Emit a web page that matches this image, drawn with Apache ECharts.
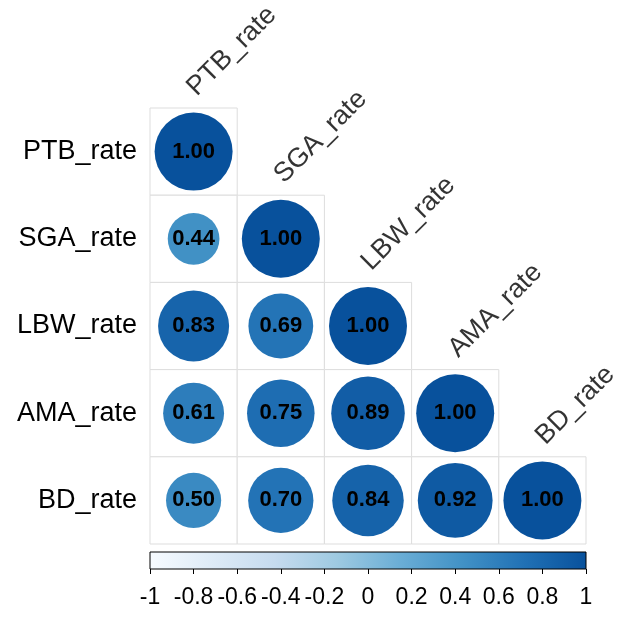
<!DOCTYPE html>
<html>
<head>
<meta charset="utf-8">
<script src="https://cdn.jsdelivr.net/npm/echarts@6/dist/echarts.min.js"></script>
<style>html,body{margin:0;padding:0;background:#fff;}#c{width:624px;height:618px;}</style>
</head>
<body>
<div id="c"></div>
<script>
// ---- data ----
var variables = ['PTB_rate', 'SGA_rate', 'LBW_rate', 'AMA_rate', 'BD_rate'];
// lower-triangle correlations, row i has i+1 values (columns 0..i)
var corrPTB = [1.00];
var corrSGA = [0.44, 1.00];
var corrLBW = [0.83, 0.69, 1.00];
var corrAMA = [0.61, 0.75, 0.89, 1.00];
var corrBD  = [0.50, 0.70, 0.84, 0.92, 1.00];
var corrRows = [corrPTB, corrSGA, corrLBW, corrAMA, corrBD];
var colorbarTicks = [-1, -0.8, -0.6, -0.4, -0.2, 0, 0.2, 0.4, 0.6, 0.8, 1];
var colorbarTickLabels = ['-1', '-0.8', '-0.6', '-0.4', '-0.2', '0', '0.2', '0.4', '0.6', '0.8', '1'];
var palette = ['#F7FBFF', '#DEEBF7', '#C6DBEF', '#9ECAE1', '#6BAED6', '#4292C6', '#2171B5', '#08519C'];

// ---- build ----
var circleData = [];
var cellData = [];
corrRows.forEach(function (row, i) {
  row.forEach(function (v, j) {
    circleData.push([variables[j], variables[i], v]);
    cellData.push([variables[j], variables[i]]);
  });
});
var diagData = variables.map(function (v) { return [v, v]; });

var FONT = 'Liberation Sans, Arial, sans-serif';
var MAXD = 78;

var chart = echarts.init(document.getElementById('c'), null, { renderer: 'canvas' });
chart.setOption({
  backgroundColor: '#fff',
  animation: false,
  grid: [
    { left: 150, top: 108, width: 436, height: 436 },
    { left: 150, top: 552, width: 436, height: 17 }
  ],
  xAxis: [
    { type: 'category', data: variables, gridIndex: 0, show: false },
    { type: 'value', gridIndex: 1, min: -1, max: 1, interval: 0.2, position: 'bottom',
      axisLine: { show: false },
      axisTick: { show: true, length: 5, lineStyle: { color: '#000', width: 1 } },
      splitLine: { show: false },
      axisLabel: { fontSize: 23, color: '#000', fontFamily: FONT, margin: 17,
        formatter: function (v, idx) { return colorbarTickLabels[idx]; } }
    }
  ],
  yAxis: [
    { type: 'category', data: variables, gridIndex: 0, inverse: true,
      axisLine: { show: false }, axisTick: { show: false }, splitLine: { show: false },
      axisLabel: { fontSize: 27, color: '#000', fontFamily: FONT, margin: 13 } },
    { type: 'value', gridIndex: 1, min: 0, max: 1, show: false }
  ],
  visualMap: {
    show: false, type: 'continuous', min: -1, max: 1, dimension: 2, seriesIndex: 1,
    inRange: { color: palette }
  },
  series: [
    {
      type: 'custom', xAxisIndex: 0, yAxisIndex: 0, data: cellData, z: 1,
      renderItem: function (params, api) {
        var c = api.coord([api.value(0), api.value(1)]);
        var s = api.size([1, 1]);
        return { type: 'rect',
          shape: { x: c[0] - s[0] / 2, y: c[1] - s[1] / 2, width: s[0], height: s[1] },
          style: { fill: '#fff', stroke: '#DDDDDD', lineWidth: 1 } };
      }
    },
    {
      type: 'scatter', xAxisIndex: 0, yAxisIndex: 0, data: circleData, z: 3,
      symbol: 'circle',
      symbolSize: function (val) { return Math.sqrt(Math.abs(val[2])) * MAXD; },
      itemStyle: { opacity: 1 },
      label: { show: true, position: 'inside', color: '#000', fontSize: 22, fontWeight: 'bold', fontFamily: FONT,
        textBorderWidth: 0,
        formatter: function (p) { return p.value[2].toFixed(2); } },
      emphasis: { disabled: true }
    },
    {
      type: 'scatter', xAxisIndex: 0, yAxisIndex: 0, data: diagData, z: 4,
      symbolSize: 0, silent: true, itemStyle: { color: '#000' },
      label: { show: true, position: 'inside', rotate: 45, align: 'left', verticalAlign: 'middle',
        offset: [41, -44], color: '#000', fontSize: 27, fontFamily: FONT, textBorderWidth: 0,
        formatter: function (p) { return p.value[0]; } }
    },
    {
      type: 'custom', xAxisIndex: 1, yAxisIndex: 1, data: [[colorbarTicks[0], colorbarTicks[colorbarTicks.length - 1]]],
      renderItem: function (params, api) {
        var a = api.coord([api.value(0), 1]);
        var b = api.coord([api.value(1), 0]);
        var stops = palette.map(function (c, i) { return { offset: i / (palette.length - 1), color: c }; });
        return { type: 'rect',
          shape: { x: a[0], y: a[1], width: b[0] - a[0], height: b[1] - a[1] },
          style: { fill: new echarts.graphic.LinearGradient(0, 0, 1, 0, stops), stroke: '#000', lineWidth: 1 } };
      }
    }
  ]
});
</script>
</body>
</html>
